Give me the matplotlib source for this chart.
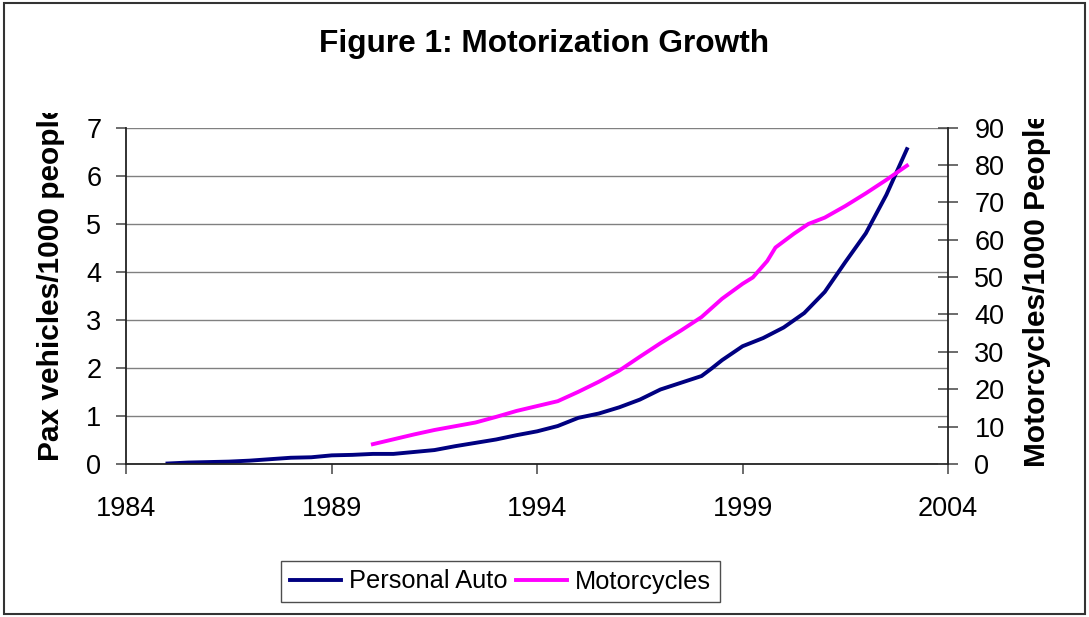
import matplotlib
matplotlib.use("Agg")
import matplotlib.pyplot as plt
from matplotlib.patches import Rectangle
from matplotlib.transforms import Bbox, TransformedBbox

plt.rcParams['font.family'] = ['Liberation Sans', 'DejaVu Sans']

# ---------------- DATA ---------------- #

auto_years = [1985.0, 1985.5, 1986.0, 1986.5, 1987.0, 1987.5, 1988.0, 1988.5,
              1989.0, 1989.5, 1990.0, 1990.5, 1991.0, 1991.5, 1992.0, 1992.5,
              1993.0, 1993.5, 1994.0, 1994.5, 1995.0, 1995.5, 1996.0, 1996.5,
              1997.0, 1997.5, 1998.0, 1998.25, 1998.5, 1999.0, 1999.5, 2000.0,
              2000.5, 2001.0, 2001.5, 2002.0, 2002.5, 2003.0]
auto_vals = [0.01, 0.03, 0.04, 0.05, 0.07, 0.10, 0.13, 0.14,
             0.18, 0.19, 0.21, 0.21, 0.25, 0.29, 0.37, 0.44,
             0.51, 0.60, 0.68, 0.79, 0.96, 1.05, 1.18, 1.34,
             1.55, 1.69, 1.83, 1.99, 2.16, 2.45, 2.62, 2.84,
             3.14, 3.58, 4.20, 4.80, 5.60, 6.55]

moto_years = [1990.0, 1990.5, 1991.0, 1991.5, 1992.0, 1992.5, 1993.0, 1993.5,
              1994.0, 1994.5, 1995.0, 1995.5, 1996.0, 1996.5, 1997.0, 1997.5,
              1998.0, 1998.5, 1999.0, 1999.25, 1999.6, 1999.8, 2000.25, 2000.6,
              2001.0, 2001.5, 2002.0, 2002.5, 2003.0]
moto_vals = [5.3, 6.6, 7.9, 9.1, 10.1, 11.1, 12.6, 14.2,
             15.5, 16.8, 19.3, 22.0, 25.0, 28.7, 32.3, 35.7,
             39.3, 44.2, 48.2, 49.9, 54.3, 57.9, 61.6, 64.2,
             65.9, 69.0, 72.4, 76.0, 79.8]

x_ticks = [1984, 1989, 1994, 1999, 2004]
left_ticks = [0, 1, 2, 3, 4, 5, 6, 7]
right_ticks = [0, 10, 20, 30, 40, 50, 60, 70, 80, 90]

# ---------------- FIGURE ---------------- #

W, H = 1089, 617
fig = plt.figure(figsize=(W / 100, H / 100), dpi=100)

ax = fig.add_axes([126.4 / W, 1 - 464 / H, (948 - 126.4) / W, (464 - 127.5) / H])
ax2 = ax.twinx()

line1, = ax.plot(auto_years, auto_vals, color='#000080', lw=2.8,
                 solid_joinstyle='round', label='Personal Auto')
line2, = ax2.plot(moto_years, moto_vals, color='#FF00FF', lw=2.8,
                  solid_joinstyle='round', label='Motorcycles')

ax.set_xlim(1984, 2004)
ax.set_ylim(0, 7)
ax2.set_ylim(0, 90)
ax.set_xticks(x_ticks)
ax.set_yticks(left_ticks)
ax2.set_yticks(right_ticks)

ax.grid(axis='y', color='#808080', lw=1.0)
ax.set_axisbelow(True)

for a in (ax, ax2):
    a.spines['top'].set_visible(False)
    for s in a.spines.values():
        s.set_color('#222222')
        s.set_linewidth(1.3)
ax2.spines['left'].set_visible(False)
ax2.spines['bottom'].set_visible(False)
ax.spines['right'].set_visible(False)

ax.tick_params(axis='x', direction='out', length=7, width=1.1, color='#444444',
               labelsize=19.5, pad=16)
ax.tick_params(axis='y', direction='out', length=7, width=1.1, color='#444444',
               labelsize=19.5, pad=11)
ax2.tick_params(axis='y', direction='inout', length=14, width=1.1, color='#444444',
                labelsize=19.5, pad=12)

# ---------------- TEXT ---------------- #

fig.text(0.5, 1 - 44 / H, 'Figure 1: Motorization Growth', ha='center',
         va='center', fontsize=22.8, fontweight='bold')

lab1 = fig.text(51 / W, 1 - 461 / H, 'Pax vehicles/1000 people', rotation=90,
                ha='center', va='bottom', fontsize=21.5, fontweight='bold')
lab1.set_clip_box(TransformedBbox(Bbox([[0, 0], [1, 1 - 113 / H]]), fig.transFigure))
lab1.set_clip_on(True)

lab2 = fig.text(1037 / W, 1 - 467 / H, 'Motorcycles/1000 People', rotation=90,
                ha='center', va='bottom', fontsize=21.5, fontweight='bold')
lab2.set_clip_box(TransformedBbox(Bbox([[0, 0], [1, 1 - 119 / H]]), fig.transFigure))
lab2.set_clip_on(True)

# Legend
leg = fig.legend(handles=[line1, line2], loc='center', ncol=2,
                 bbox_to_anchor=(500.5 / W, 1 - 581.5 / H), fontsize=18.3,
                 frameon=True, fancybox=False, handlelength=2.0,
                 handletextpad=0.3, columnspacing=0.35, borderpad=0.35,
                 borderaxespad=0)
leg.get_frame().set_edgecolor('#222222')
leg.get_frame().set_linewidth(1.0)

# Outer border
fig.patches.append(Rectangle((4 / W, 3 / H), (1085 - 4) / W, (614 - 3) / H,
                             transform=fig.transFigure, fill=False,
                             edgecolor='#333333', lw=1.5))

fig.savefig('out.png', dpi=100)
